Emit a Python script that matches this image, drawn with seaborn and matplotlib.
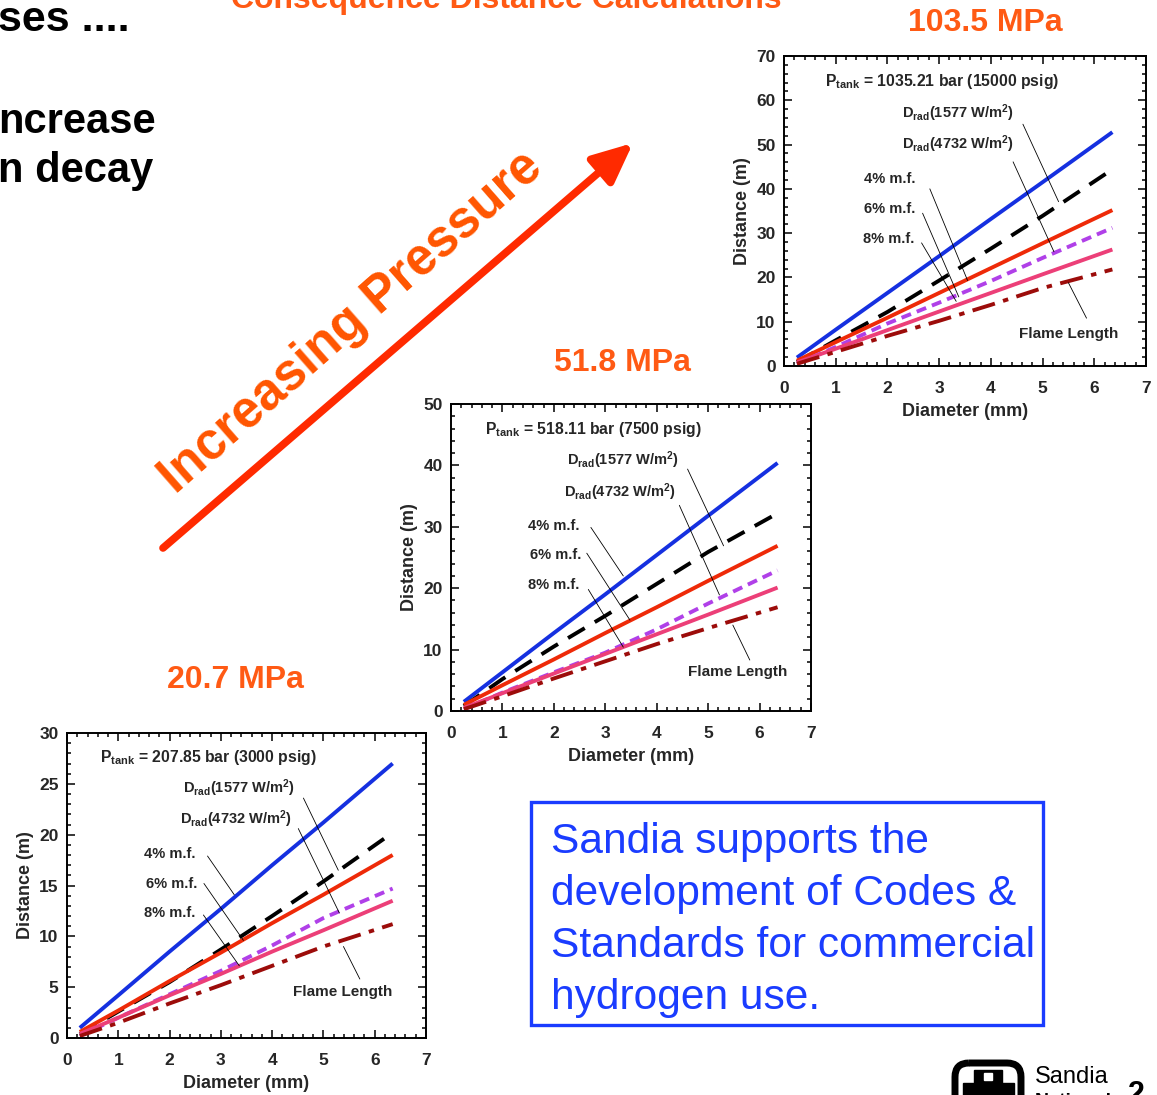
import matplotlib
matplotlib.use("Agg")
import matplotlib.pyplot as plt
import seaborn as sns
import pandas as pd
from matplotlib.ticker import MultipleLocator
from matplotlib.patches import Rectangle, FancyBboxPatch

# ---------------- data ----------------
diameter_mm = [0.25, 1, 2, 3, 4, 5, 6.35]
series_keys = ["drad1577", "drad4732", "mf4", "mf6", "mf8", "flame"]

# 103.5 MPa (1035.21 bar)
p103_drad1577 = [1.9, 8.2, 16.5, 24.8, 33.2, 41.5, 52.8]
p103_drad4732 = [0.9, 5.8, 12.2, 19.3, 26.5, 33.9, 44.4]
p103_mf4 = [1.2, 5.4, 10.9, 16.5, 22.1, 27.7, 35.2]
p103_mf6 = [0.5, 4.3, 9.6, 14.3, 19.2, 24.4, 31.2]
p103_mf8 = [0.8, 3.9, 8.1, 12.3, 16.5, 20.7, 26.3]
p103_flame = [0.5, 3.2, 6.8, 10.2, 13.8, 17.6, 21.8]

# 51.8 MPa (518.11 bar)
p52_drad1577 = [1.5, 6.3, 12.7, 19.0, 25.4, 31.8, 40.4]
p52_drad4732 = [0.8, 5.2, 10.5, 15.5, 20.7, 25.9, 32.2]
p52_mf4 = [1.0, 4.2, 8.4, 12.7, 16.9, 21.2, 26.9]
p52_mf6 = [0.3, 3.0, 6.3, 9.5, 13.3, 17.5, 22.9]
p52_mf8 = [0.5, 2.9, 6.1, 9.3, 12.5, 15.7, 20.1]
p52_flame = [0.3, 2.4, 5.3, 8.1, 10.9, 13.5, 16.9]

# 20.7 MPa (207.85 bar)
p21_drad1577 = [1.0, 4.2, 8.5, 12.7, 17.0, 21.2, 27.0]
p21_drad4732 = [0.4, 2.6, 5.5, 8.7, 12.0, 15.4, 20.2]
p21_mf4 = [0.6, 2.7, 5.6, 8.4, 11.3, 14.1, 18.0]
p21_mf6 = [0.2, 2.0, 4.3, 6.6, 9.1, 11.8, 14.7]
p21_mf8 = [0.4, 2.0, 4.2, 6.3, 8.5, 10.6, 13.5]
p21_flame = [0.2, 1.5, 3.4, 5.2, 7.1, 9.0, 11.2]

pressure_titles = ["103.5 MPa", "51.8 MPa", "20.7 MPa"]
tank_labels = ["1035.21 bar (15000 psig)", "518.11 bar (7500 psig)", "207.85 bar (3000 psig)"]
ylims = [70, 50, 30]
ymajor = [10, 10, 5]
yminor = [2, 2, 1]

# ---------------- style ----------------
sns.set_style("white")
plt.rcParams["font.family"] = ["Liberation Sans", "DejaVu Sans"]
plt.rcParams["mathtext.fontset"] = "custom"
plt.rcParams["mathtext.rm"] = "Liberation Sans:bold"
plt.rcParams["mathtext.bf"] = "Liberation Sans:bold"
plt.rcParams["mathtext.it"] = "Liberation Sans:bold"
plt.rcParams["mathtext.default"] = "bf"

palette = {"drad1577": "#1530e0", "drad4732": "#000000", "mf4": "#ee2a08",
           "mf6": "#b040e8", "mf8": "#ec3f78", "flame": "#9c0c0a"}
dashes = {"drad1577": "", "drad4732": (5, 3), "mf4": "", "mf6": (2.6, 1.6),
          "mf8": "", "flame": (6, 2.2, 1.4, 2.2)}

W, H = 1157, 1095
fig = plt.figure(figsize=(W / 100, H / 100), dpi=100)

# overlay for slide decorations (pixel coordinates)
ov = fig.add_axes([0, 0, 1, 1])
ov.set_xlim(0, W)
ov.set_ylim(H, 0)
ov.axis("off")

orange = "#ff5a14"
ov.text(-2, 31, "ses ....", fontsize=31, fontweight="bold", color="black", va="baseline", ha="left")
ov.text(-2, 133, "ncrease", fontsize=30, fontweight="bold", color="black", va="baseline", ha="left")
ov.text(-2, 182, "n decay", fontsize=30, fontweight="bold", color="black", va="baseline", ha="left")
ov.text(506, 8, "Consequence Distance Calculations", fontsize=23, fontweight="bold",
        color=orange, va="baseline", ha="center")
ov.text(985, 31, pressure_titles[0], fontsize=23, fontweight="bold", color=orange, va="baseline", ha="center")
ov.text(622, 371, pressure_titles[1], fontsize=23, fontweight="bold", color=orange, va="baseline", ha="center")
ov.text(235, 688, pressure_titles[2], fontsize=23, fontweight="bold", color=orange, va="baseline", ha="center")

ov.annotate("", xy=(633, 143), xytext=(163, 548),
            arrowprops=dict(arrowstyle="-|>,head_length=1.1,head_width=0.5", lw=5.5,
                            color="#ff2a00", mutation_scale=22, shrinkA=0, shrinkB=0))
ov.text(351, 323, "Increasing Pressure", fontsize=37, fontweight="bold", color="#ff5500",
        rotation=41.3, rotation_mode="anchor", ha="center", va="center")

# blue box
ov.add_patch(Rectangle((531, 802), 512, 223, fill=False, edgecolor="#1a3cff", lw=2.4))
for i, line in enumerate(["Sandia supports the", "development of Codes &",
                          "Standards for commercial", "hydrogen use."]):
    ov.text(551, 853 + i * 52, line, fontsize=30.6, color="#1a3cff", va="baseline", ha="left")

# Sandia logo (partial)
ov.add_patch(FancyBboxPatch((955, 1063), 66, 70, boxstyle="round,pad=0,rounding_size=14",
                            fill=False, edgecolor="black", lw=5, clip_on=False))
ov.add_patch(Rectangle((974, 1070), 28, 30, color="black"))
ov.add_patch(Rectangle((963, 1083), 51, 20, color="black"))
ov.add_patch(Rectangle((984, 1073), 8, 7, color="white"))
ov.text(1035, 1083, "Sandia", fontsize=17, family=["Liberation Sans Narrow", "Liberation Sans"],
        va="baseline", ha="left", color="black")
ov.text(1035, 1106, "National", fontsize=14, family=["Liberation Sans Narrow", "Liberation Sans"],
        fontweight="bold", va="baseline", ha="left", color="black", clip_on=False)
ov.text(1128, 1103, "2", fontsize=22, fontweight="bold", va="baseline", ha="left", color="black")

# ---------------- charts ----------------
rects = [
    (784 / W, 1 - 366 / H, 362 / W, 310 / H),
    (451 / W, 1 - 711 / H, 360 / W, 307 / H),
    (67 / W, 1 - 1038 / H, 359 / W, 305 / H),
]
all_series = [
    [p103_drad1577, p103_drad4732, p103_mf4, p103_mf6, p103_mf8, p103_flame],
    [p52_drad1577, p52_drad4732, p52_mf4, p52_mf6, p52_mf8, p52_flame],
    [p21_drad1577, p21_drad4732, p21_mf4, p21_mf6, p21_mf8, p21_flame],
]
# label positions (axes fraction: x left, y baseline)
label_pos = [
    [(0.114, 0.903), (0.325, 0.801), (0.325, 0.699), (0.222, 0.591), (0.222, 0.492), (0.218, 0.398), (0.649, 0.091)],
    [(0.095, 0.903), (0.321, 0.801), (0.314, 0.698), (0.215, 0.588), (0.220, 0.494), (0.215, 0.399), (0.657, 0.114)],
    [(0.093, 0.905), (0.323, 0.802), (0.314, 0.702), (0.214, 0.590), (0.219, 0.492), (0.214, 0.398), (0.629, 0.139)],
]
# leader lines (data coords): start, end
leaders = [
    [((4.62, 54.6), (5.31, 37.1)), ((4.43, 46.1), (5.22, 25.8)), ((2.82, 40.0), (3.55, 19.3)),
     ((2.68, 34.5), (3.38, 15.6)), ((2.66, 27.8), (3.33, 14.6)), ((5.85, 10.8), (5.50, 18.8))],
    [((4.60, 39.4), (5.30, 26.9)), ((4.44, 33.5), (5.22, 18.9)), ((2.72, 29.9), (3.35, 22.0)),
     ((2.64, 25.7), (3.48, 14.8)), ((2.67, 19.8), (3.35, 10.4)), ((5.81, 8.3), (5.48, 14.0))],
    [((4.61, 23.6), (5.29, 16.5)), ((4.51, 20.6), (5.31, 12.3)), ((2.74, 17.9), (3.26, 14.1)),
     ((2.67, 15.2), (3.44, 9.6)), ((2.66, 12.1), (3.36, 7.1)), ((5.71, 5.8), (5.39, 9.0))],
]
texts_common = [r"$D_{rad}$(1577 W/m$^{2}$)", r"$D_{rad}$(4732 W/m$^{2}$)",
                "4% m.f.", "6% m.f.", "8% m.f.", "Flame Length"]

for k in range(3):
    ax = fig.add_axes(rects[k])
    rows = []
    for name, vals in zip(series_keys, all_series[k]):
        for d, v in zip(diameter_mm, vals):
            rows.append({"d": d, "dist": v, "series": name})
    df = pd.DataFrame(rows)
    sns.lineplot(data=df, x="d", y="dist", hue="series", style="series",
                 palette=palette, dashes=dashes, linewidth=2.8, legend=False,
                 estimator=None, sort=False, ax=ax)
    for ln in ax.lines:
        ln.set_dash_capstyle("butt")
        ln.set_solid_capstyle("butt")
    ax.set_xlim(0, 7)
    ax.set_ylim(0, ylims[k])
    ax.xaxis.set_major_locator(MultipleLocator(1))
    ax.xaxis.set_minor_locator(MultipleLocator(0.2))
    ax.yaxis.set_major_locator(MultipleLocator(ymajor[k]))
    ax.yaxis.set_minor_locator(MultipleLocator(yminor[k]))
    ax.tick_params(which="both", direction="in", top=True, right=True, bottom=True, left=True,
                   width=1.1, color="black")
    ax.tick_params(which="major", length=5.5)
    ax.tick_params(which="minor", length=3)
    ax.tick_params(axis="x", which="major", pad=11, labelsize=12.5)
    ax.tick_params(axis="y", which="major", pad=6, labelsize=12.5)
    for lab in ax.get_xticklabels() + ax.get_yticklabels():
        lab.set_fontweight("bold")
    for sp in ax.spines.values():
        sp.set_visible(True)
        sp.set_linewidth(1.4)
        sp.set_color("black")
    ax.set_xlabel("Diameter (mm)", fontsize=13, fontweight="bold", labelpad=5)
    ax.set_ylabel("Distance (m)", fontsize=13, fontweight="bold", labelpad=4)

    lp = label_pos[k]
    ax.text(lp[0][0], lp[0][1], r"$P_{tank}$ = " + tank_labels[k], transform=ax.transAxes,
            fontsize=11.3, fontweight="bold", va="baseline", ha="left")
    for j, t in enumerate(texts_common):
        ax.text(lp[j + 1][0], lp[j + 1][1], t, transform=ax.transAxes,
                fontsize=11 if j == 5 else 10.5, fontweight="bold", va="baseline", ha="left")
    for (x0, y0), (x1, y1) in leaders[k]:
        ax.plot([x0, x1], [y0, y1], color="black", lw=0.6)

fig.savefig("out.png", dpi=100)
